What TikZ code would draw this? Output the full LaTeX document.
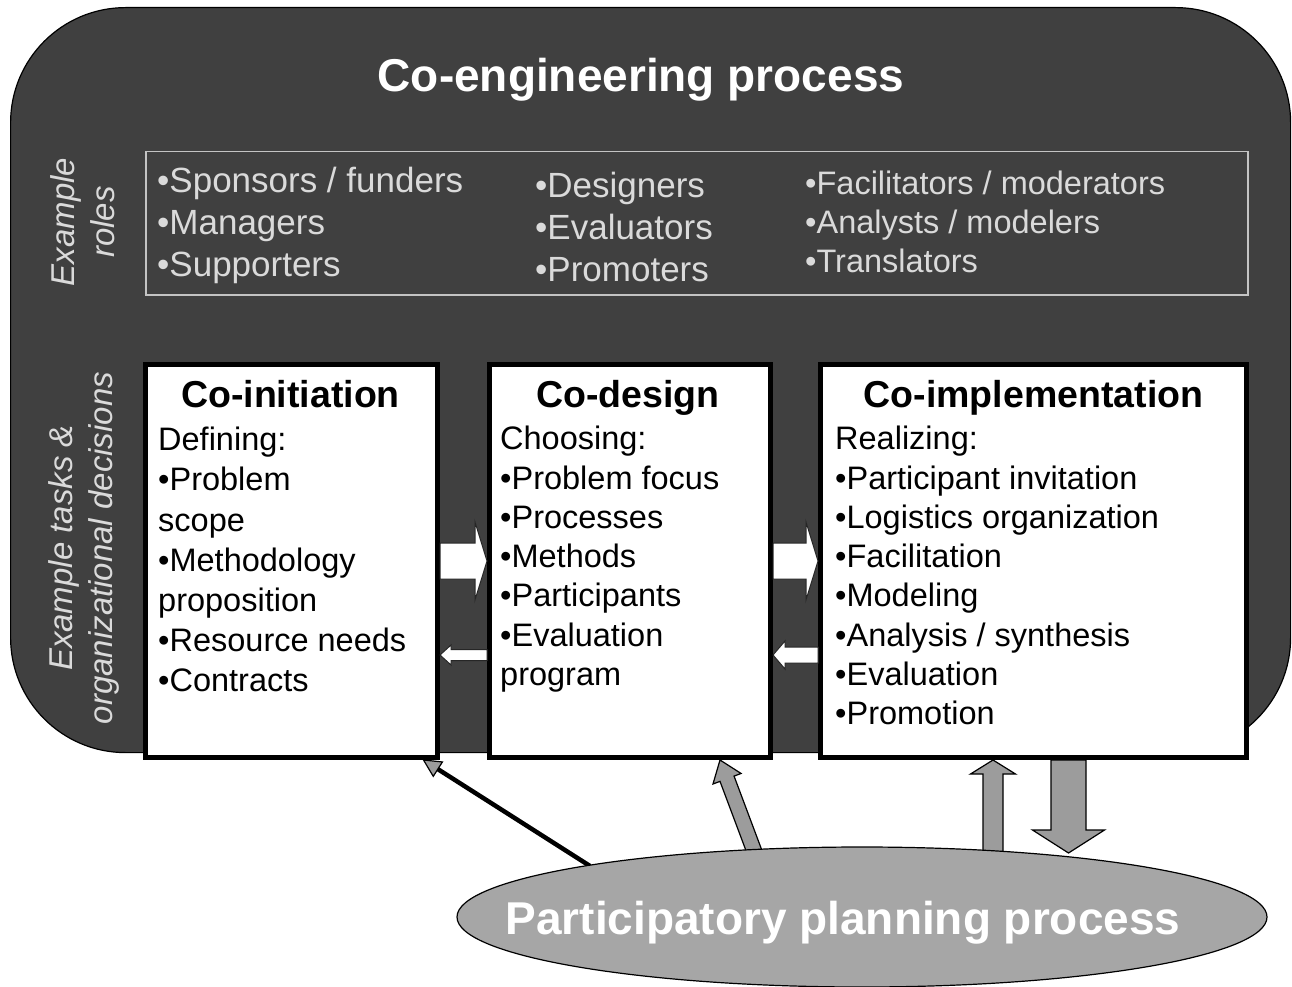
\documentclass[tikz,border=0pt]{standalone}
\usepackage{fontspec}
\setmainfont{Liberation Sans}
\usetikzlibrary{calc,shapes.geometric,arrows.meta}
\definecolor{darkbg}{HTML}{404040}
\definecolor{ppgrey}{HTML}{A6A6A6}
\definecolor{rolegrey}{HTML}{DADADA}
\definecolor{arrowgrey}{HTML}{9C9C9C}
% #1 style, #2 from, #3 to, #4 shaft half width, #5 head half width, #6 head length
\newcommand{\BlkArrow}[6]{%
  \coordinate (ba-h) at ($(#3)!#6!(#2)$);
  \path[#1] ($(#2)!#4!90:(#3)$) -- ($(ba-h)!#4!90:(#3)$) -- ($(ba-h)!#5!90:(#3)$)
    -- (#3) -- ($(ba-h)!#5!-90:(#3)$) -- ($(ba-h)!#4!-90:(#3)$) -- ($(#2)!#4!-90:(#3)$) -- cycle;
}
\begin{document}
\begin{tikzpicture}[x=1pt,y=-1pt,
  box/.style={draw=black, line width=5pt, fill=white, inner sep=0, anchor=north west, minimum height=393},
  body/.style={anchor=north west, inner sep=0, align=left, text=black},
  boxtitle/.style={anchor=base, inner sep=0, font=\fontsize{37.5}{45}\selectfont\bfseries},
  roletext/.style={anchor=north west, inner sep=0, align=left, text=rolegrey},
  sidelabel/.style={rotate=90, align=center, inner sep=0, text=rolegrey, font=\fontsize{33}{40}\selectfont\itshape},
  whitearrow/.style={fill=white, draw=black!85, line width=1pt},
  greyarrow/.style={fill=arrowgrey, draw=black, line width=1.2pt, line join=miter}]
\useasboundingbox (0,0) rectangle (1292,987);
\fill[white] (0,0) rectangle (1292,987);

% background
\node[draw=black, line width=1.2pt, fill=darkbg, rounded corners=115pt, minimum width=1280, minimum height=745, inner sep=0, anchor=north west] (coeng) at (10,7) {};
\node[anchor=base, inner sep=0, text=white, font=\fontsize{46}{55}\selectfont\bfseries] (title) at (641,92) {Co-engineering process};

% roles
\node[draw=rolegrey!90!black, line width=1.5pt, minimum width=1102, minimum height=143, inner sep=0, anchor=north west] (roles) at (145,151) {};
\node[roletext, font=\fontsize{35}{42}\selectfont] (col1) at (157,167) {•Sponsors / funders\\•Managers\\•Supporters};
\node[roletext, font=\fontsize{35}{42}\selectfont] (col2) at (535,172) {•Designers\\•Evaluators\\•Promoters};
\node[roletext, font=\fontsize{32.5}{39}\selectfont] (col3) at (805,171) {•Facilitators / moderators\\•Analysts / modelers\\•Translators};

\node[sidelabel] (lblroles) at (83,222) {Example\\roles};
\node[sidelabel] (lbltasks) at (84,548) {Example tasks \&\\organizational decisions};

% boxes
\node[box, minimum width=292] (init) at (143,362) {};
\node[box, minimum width=281] (design) at (487,362) {};
\node[box, minimum width=426] (impl) at (818,362) {};

\node[boxtitle] (t1) at ($(init.north)+(-1,45)$) {Co-initiation};
\node[boxtitle] (t2) at ($(design.north)+(-2,45)$) {Co-design};
\node[boxtitle] (t3) at ($(impl.north)+(0,45)$) {Co-implementation};

\node[body, font=\fontsize{32.5}{40.2}\selectfont] (b1) at (158,427) {Defining:\\•Problem\\scope\\•Methodology\\proposition\\•Resource needs\\•Contracts};
\node[body, font=\fontsize{32.5}{39.3}\selectfont] (b2) at (500,426) {Choosing:\\•Problem focus\\•Processes\\•Methods\\•Participants\\•Evaluation\\program};
\node[body, font=\fontsize{32.5}{39.3}\selectfont] (b3) at (835,426) {Realizing:\\•Participant invitation\\•Logistics organization\\•Facilitation\\•Modeling\\•Analysis / synthesis\\•Evaluation\\•Promotion};

% arrows between boxes
\BlkArrow{whitearrow}{init.east}{design.west}{18pt}{39pt}{12pt}
\BlkArrow{whitearrow}{design.east}{impl.west}{18pt}{39pt}{12pt}
\coordinate (l1s) at ($(design.west)+(0,94)$);
\coordinate (l1e) at ($(init.east)+(0,94)$);
\BlkArrow{whitearrow}{l1s}{l1e}{5.5pt}{10pt}{11pt}
\coordinate (l2s) at ($(impl.west)+(0,94)$);
\coordinate (l2e) at ($(design.east)+(0,94)$);
\BlkArrow{whitearrow}{l2s}{l2e}{8pt}{14pt}{12pt}

% arrows to/from the participatory planning process
\coordinate (blS) at (590,866);
\coordinate (blE) at ($(init.south)+(132,0)$);
\draw[line width=4.5pt, shorten >=14pt] (blS) -- (blE);
\coordinate (blH) at ($(blE)!17pt!(blS)$);
\path[greyarrow] (blE) -- ($(blH)!8.5pt!90:(blE)$) -- ($(blH)!8.5pt!-90:(blE)$) -- cycle;
\coordinate (dgS) at (756,856);
\coordinate (dgE) at ($(design.south)+(90,0)$);
\BlkArrow{greyarrow}{dgS}{dgE}{7.5pt}{15pt}{20pt}
\coordinate (upS) at (993,856);
\coordinate (upE) at ($(impl.south)+(-40.5,0)$);
\BlkArrow{greyarrow}{upS}{upE}{10pt}{22.5pt}{14pt}

\node[ellipse, draw=black, line width=1.2pt, fill=ppgrey, minimum width=810, minimum height=140, inner sep=0] (pp) at (862,917) {};
\node[anchor=base, inner sep=0, text=white, font=\fontsize{46}{55}\selectfont\bfseries] (pptext) at (843,934) {Participatory planning process};

\coordinate (dnS) at ($(impl.south)+(35,0)$);
\coordinate (dnE) at (1068.5,853);
\BlkArrow{greyarrow}{dnS}{dnE}{17.5pt}{36pt}{23pt}
\end{tikzpicture}
\end{document}
